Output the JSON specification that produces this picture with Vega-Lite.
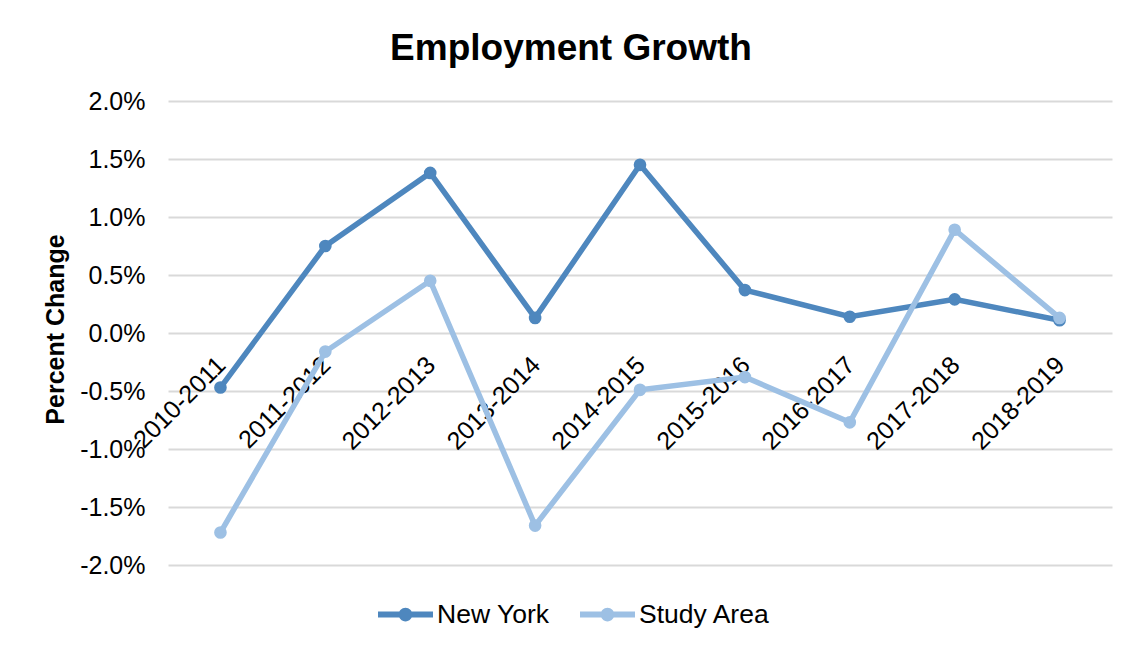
{
  "$schema": "https://vega.github.io/schema/vega-lite/v6.json",
  "autosize": "none",
  "width": 944,
  "height": 464,
  "padding": {"left": 168, "top": 101, "right": 23, "bottom": 89},
  "background": "white",
  "config": {
    "font": "Liberation Sans",
    "view": {"stroke": null}
  },
  "title": {
    "text": "Employment Growth",
    "fontSize": 37,
    "fontWeight": "bold",
    "color": "black",
    "anchor": "middle",
    "dx": -69,
    "offset": 21
  },
  "data": {
    "values": [
      {"period": "2010-2011", "series": "New York", "value": -0.0047},
      {"period": "2011-2012", "series": "New York", "value": 0.0075},
      {"period": "2012-2013", "series": "New York", "value": 0.0138},
      {"period": "2013-2014", "series": "New York", "value": 0.0013},
      {"period": "2014-2015", "series": "New York", "value": 0.0145},
      {"period": "2015-2016", "series": "New York", "value": 0.0037},
      {"period": "2016-2017", "series": "New York", "value": 0.0014},
      {"period": "2017-2018", "series": "New York", "value": 0.0029},
      {"period": "2018-2019", "series": "New York", "value": 0.0011},
      {"period": "2010-2011", "series": "Study Area", "value": -0.0172},
      {"period": "2011-2012", "series": "Study Area", "value": -0.0016},
      {"period": "2012-2013", "series": "Study Area", "value": 0.0045},
      {"period": "2013-2014", "series": "Study Area", "value": -0.0166},
      {"period": "2014-2015", "series": "Study Area", "value": -0.0049},
      {"period": "2015-2016", "series": "Study Area", "value": -0.0038},
      {"period": "2016-2017", "series": "Study Area", "value": -0.0077},
      {"period": "2017-2018", "series": "Study Area", "value": 0.0089},
      {"period": "2018-2019", "series": "Study Area", "value": 0.0013}
    ]
  },
  "encoding": {
    "x": {
      "field": "period",
      "type": "ordinal",
      "scale": {"padding": 0.5},
      "axis": {
        "title": null,
        "domain": false,
        "ticks": false,
        "grid": false,
        "offset": -232,
        "labelAngle": -45,
        "labelAlign": "right",
        "labelBaseline": "top",
        "labelPadding": 19,
        "labelOffset": -8,
        "labelFontSize": 25,
        "labelColor": "black",
        "labelOverlap": false
      }
    },
    "y": {
      "field": "value",
      "type": "quantitative",
      "scale": {"domain": [-0.02, 0.02], "nice": false, "zero": false},
      "axis": {
        "values": [-0.02, -0.015, -0.01, -0.005, 0, 0.005, 0.01, 0.015, 0.02],
        "format": ".1%",
        "labelExpr": "replace(datum.label, '−', '-')",
        "domain": false,
        "ticks": false,
        "gridColor": "#d9d9d9",
        "gridWidth": 2,
        "labelFontSize": 25,
        "labelColor": "black",
        "labelPadding": 23,
        "title": "Percent Change",
        "titleFontSize": 25,
        "titleFontWeight": "bold",
        "titleColor": "black",
        "titleX": -113,
        "titleY": 228,
        "titleAngle": -90,
        "titleAlign": "center",
        "titleBaseline": "middle"
      }
    },
    "color": {
      "field": "series",
      "type": "nominal",
      "scale": {"domain": ["New York", "Study Area"], "range": ["#4E87BE", "#9DC0E4"]},
      "legend": {
        "title": null,
        "orient": "none",
        "direction": "horizontal",
        "legendX": 210,
        "legendY": 486,
        "symbolType": "M-1,-0.11 L1,-0.11 L1,0.11 L-1,0.11 Z M-0.25,0 A0.25,0.25 0 1,1 0.25,0 A0.25,0.25 0 1,1 -0.25,0 Z",
        "symbolSize": 3025,
        "symbolStrokeWidth": 0,
        "labelFontSize": 26.5,
        "labelColor": "black",
        "labelOffset": 4,
        "columnPadding": 30,
        "encode": {
          "symbols": {
            "update": {
              "fill": {"scale": "color", "field": "value"},
              "stroke": {"value": "transparent"},
              "opacity": {"value": 1}
            }
          }
        }
      }
    }
  },
  "layer": [
    {"mark": {"type": "line", "strokeWidth": 5.5}},
    {"mark": {"type": "point", "filled": true, "size": 160, "opacity": 1}}
  ]
}
